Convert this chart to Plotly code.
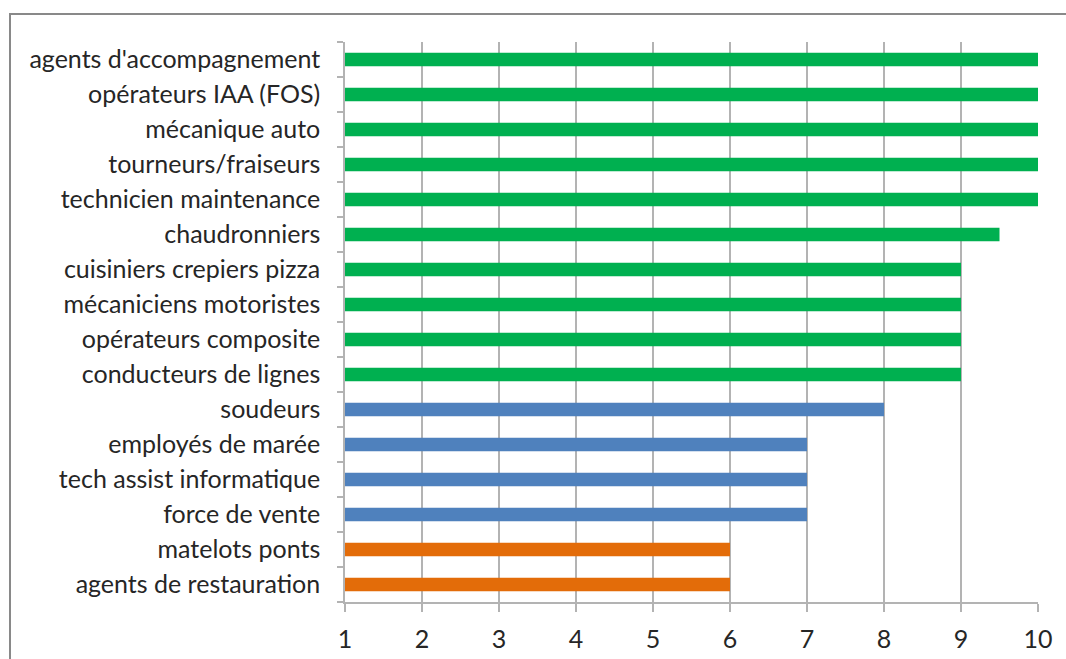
import plotly.graph_objects as go

# Métiers (top to bottom) and their scores on a 1–10 scale
metiers = [
    "agents d'accompagnement",
    "opérateurs IAA (FOS)",
    "mécanique auto",
    "tourneurs/fraiseurs",
    "technicien maintenance",
    "chaudronniers",
    "cuisiniers crepiers pizza",
    "mécaniciens motoristes",
    "opérateurs composite",
    "conducteurs de lignes",
    "soudeurs",
    "employés de marée",
    "tech assist informatique",
    "force de vente",
    "matelots ponts",
    "agents de restauration",
]
scores = [10, 10, 10, 10, 10, 9.5, 9, 9, 9, 9, 8, 7, 7, 7, 6, 6]
x_ticks = [1, 2, 3, 4, 5, 6, 7, 8, 9, 10]

GREEN, BLUE, ORANGE = "#00B050", "#4F81BD", "#E36C09"


def colour_for(v):
    if v >= 9:
        return GREEN
    if v >= 7:
        return BLUE
    return ORANGE


colours = [colour_for(v) for v in scores]

fig = go.Figure(
    go.Bar(
        x=scores,
        y=metiers,
        orientation="h",
        marker=dict(color=colours, line=dict(width=0)),
        hoverinfo="x+y",
    )
)

GRID = "#B3B3B3"
FONT = "Lato"
TEXT = "#262626"

fig.update_layout(
    width=1066,
    height=659,
    margin=dict(l=345, r=28, t=42, b=57, autoexpand=False),
    paper_bgcolor="white",
    plot_bgcolor="white",
    bargap=0.61,
    showlegend=False,
    font=dict(family=FONT, size=25, color=TEXT),
    xaxis=dict(
        range=[1, 10],
        tickvals=x_ticks,
        ticktext=[str(t) for t in x_ticks],
        showgrid=True,
        gridcolor=GRID,
        gridwidth=1.5,
        zeroline=False,
        showline=True,
        linecolor=GRID,
        linewidth=1.5,
        ticks="outside",
        ticklen=8,
        tickcolor=GRID,
        tickwidth=1.5,
        ticklabelstandoff=6,
        automargin=False,
        tickfont=dict(family=FONT, size=25, color=TEXT),
        fixedrange=True,
    ),
    yaxis=dict(
        categoryorder="array",
        categoryarray=metiers[::-1],
        autorange=False,
        range=[-0.5, len(metiers) - 0.5],
        showgrid=False,
        zeroline=False,
        showline=True,
        linecolor=GRID,
        linewidth=1.5,
        ticks="outside",
        tickson="boundaries",
        ticklen=6,
        tickcolor=GRID,
        tickwidth=1.5,
        ticklabelstandoff=18,
        automargin=False,
        tickfont=dict(family=FONT, size=25, color=TEXT),
        fixedrange=True,
    ),
    shapes=[
        # outer chart frame
        dict(
            type="rect",
            xref="paper",
            yref="paper",
            x0=(10 - 345) / 693,
            x1=1.2,
            y0=-0.3,
            y1=1 + (42 - 14) / 560,
            line=dict(color="#898989", width=2),
            fillcolor="rgba(0,0,0,0)",
            layer="below",
        )
    ],
)

fig.write_html("out.html")
